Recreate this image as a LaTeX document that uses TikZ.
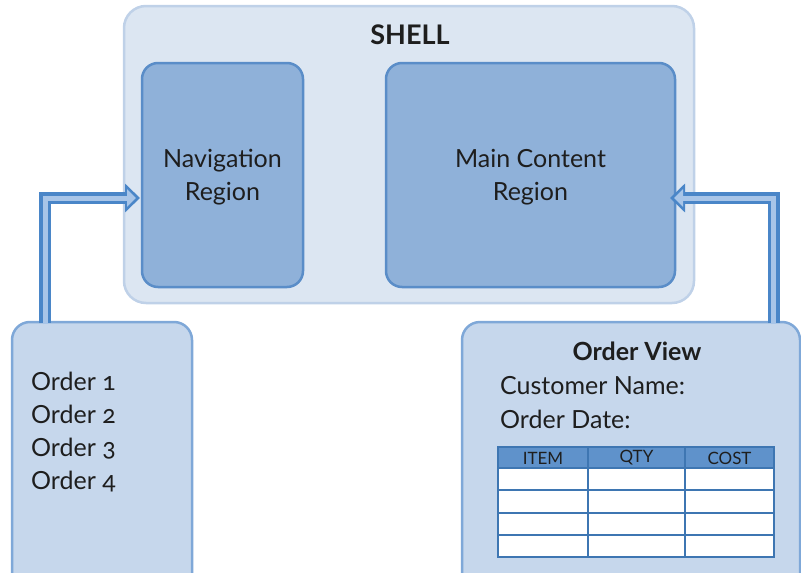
\documentclass[tikz,border=0pt]{standalone}
\usepackage{fontspec}
\setmainfont{Lato}[Numbers=OldStyle]
\usetikzlibrary{arrows.meta}

\definecolor{shellfill}{HTML}{DCE6F2}
\definecolor{shellline}{HTML}{BFD1E8}
\definecolor{regionfill}{HTML}{8FB1D9}
\definecolor{regionline}{HTML}{5A8DC8}
\definecolor{boxfill}{HTML}{C6D7EC}
\definecolor{boxline}{HTML}{7FA8D8}
\definecolor{hdrfill}{HTML}{5F92CB}
\definecolor{gridline}{HTML}{3E76B2}
\definecolor{arrowline}{HTML}{4A86C8}
\definecolor{arrowfill}{HTML}{A8C5E8}
\definecolor{txt}{HTML}{1E1E1E}

\begin{document}
\begin{tikzpicture}[x=1pt,y=-1pt,
    shellbox/.style={draw=shellline,fill=shellfill,line width=2.5pt,rounded corners=22pt,inner sep=0pt,outer sep=0pt},
    regionbox/.style={draw=regionline,fill=regionfill,line width=2.5pt,rounded corners=16pt,inner sep=0pt,outer sep=0pt},
    viewbox/.style={draw=boxline,fill=boxfill,line width=2.5pt,rounded corners=18pt,inner sep=0pt,outer sep=0pt},
    label/.style={text=txt,inner sep=0pt,font=\fontsize{25}{33}\selectfont},
    hdr/.style={text=txt,inner sep=0pt,font=\fontsize{17}{18}\selectfont},
    outerarrow/.style={draw=arrowline,line width=12pt,line join=miter,-{Triangle[length=15pt,width=28pt]}},
    innerarrow/.style={draw=arrowfill,line width=5pt,line join=miter,-{Triangle[length=9pt,width=17pt]}}]

    % fix the page and cut off the boxes at the edges
    \useasboundingbox (0,0) rectangle (801,573);
    \clip (0,0) rectangle (801,573);

    % shell with its two regions
    \node[shellbox,minimum width=570pt,minimum height=297pt] (shell) at (409,154.5) {};
    \node[text=txt,font=\fontsize{27}{30}\selectfont\bfseries] (title) at (410,35) {SHELL};
    \node[regionbox,minimum width=161pt,minimum height=224pt] (nav) at (222.5,175) {};
    \node[regionbox,minimum width=289pt,minimum height=224pt] (main) at (530.5,175) {};
    \node[label,align=center] (navtext) at ([yshift=-2pt]nav.center) {Navigation\\Region};
    \node[label,align=center] (maintext) at ([yshift=-2pt]main.center) {Main Content\\Region};

    % the two views below
    \node[viewbox,minimum width=180pt,minimum height=270pt] (orders) at (102,457) {};
    \node[viewbox,minimum width=338pt,minimum height=270pt] (view) at (631,457) {};

    % order list
    \node[label,align=left,anchor=west] (list) at (31,432)
        {Order 1\\Order 2\\Order 3\\Order 4};

    % order view texts
    \node[label,font=\fontsize{25}{30}\selectfont\bfseries] (vtitle) at (637,351) {Order View};
    \node[label,anchor=west] (cname) at (500,386) {Customer Name:};
    \node[label,anchor=west] (odate) at (500,419) {Order Date:};

    % table
    \node[draw=gridline,fill=white,line width=1.5pt,inner sep=0pt,outer sep=0pt,
        minimum width=276pt,minimum height=110pt] (tbl) at (636,502) {};
    \fill[hdrfill] (tbl.north west) rectangle (774,468);
    \foreach \y in {468,490,513,535}
        \draw[gridline,line width=1.5pt] (498,\y) -- (774,\y);
    \foreach \x in {588,685}
        \draw[gridline,line width=1.5pt] (\x,447) -- (\x,557);
    \draw[gridline,line width=1.5pt] (tbl.north west) rectangle (tbl.south east);
    \node[hdr] (item) at (543,458) {ITEM};
    \node[hdr] (qty) at (636.5,458) {QTY};
    \node[hdr] (cost) at (729.5,458) {COST};

    % arrows
    \coordinate (lstart) at (45,323);
    \coordinate (navin) at ([yshift=-23pt]nav.west);
    \coordinate (rstart) at (773.5,323);
    \coordinate (mainin) at ([yshift=-23pt]main.east);
    \draw[outerarrow,shorten >=2pt] (lstart) |- (navin);
    \draw[innerarrow,shorten >=6pt,shorten <=-1pt] (lstart) |- (navin);
    \draw[outerarrow,shorten >=-5pt] (rstart) |- (mainin);
    \draw[innerarrow,shorten >=-1pt,shorten <=-1pt] (rstart) |- (mainin);

\end{tikzpicture}
\end{document}
